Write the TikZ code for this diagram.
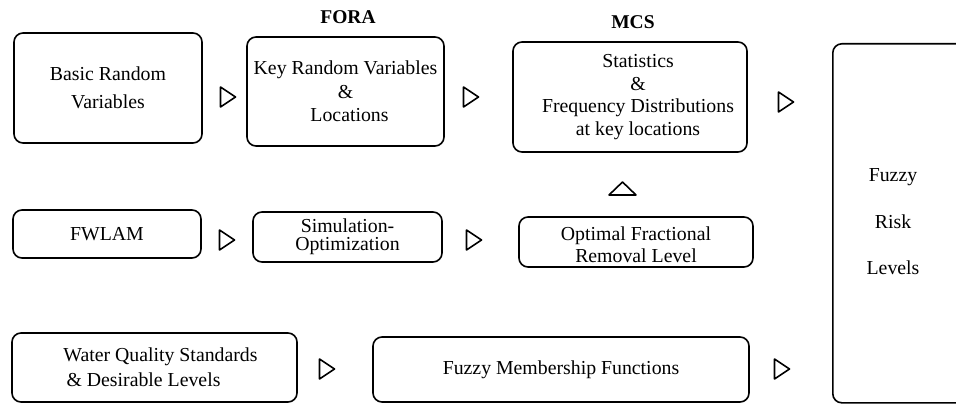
\documentclass[tikz,border=0pt]{standalone}
\usepackage{fontspec}
\setmainfont{Liberation Serif}
\begin{document}
\begin{tikzpicture}[x=1pt,y=-1pt,
  box/.style={draw, line width=1.6pt, rounded corners=9pt, align=center, inner sep=0pt,
              font=\fontsize{19.8}{22}\selectfont},
  hdr/.style={font=\bfseries\fontsize{19.5}{22}\selectfont},
  txt/.style={align=center, font=\fontsize{19.8}{22}\selectfont},
  tri/.style={draw, line width=1.6pt, line join=round},
  rtri/.pic={\draw[tri] (-7.5,-10) -- (7.5,0) -- (-7.5,10) -- cycle;},
  utri/.pic={\draw[tri] (-13.5,6.5) -- (0,-6.5) -- (13.5,6.5) -- cycle;}
]
\useasboundingbox (0,0) rectangle (956,404);
\clip (0,0) rectangle (956,404);

% headers
\node[hdr] (fora) at (348,17) {FORA};
\node[hdr] (mcs) at (633,22) {MCS};

% row 1
\node[box, minimum width=188pt, minimum height=110pt, font=\fontsize{19.8}{28}\selectfont] (basic) at (108,88) {Basic Random\\Variables};
\node[box, minimum width=197pt, minimum height=109pt, font=\fontsize{19.8}{23.5}\selectfont] (key) at (345.5,91.5) {Key Random Variables\\\&\\\hspace*{8pt}Locations};
\node[box, minimum width=234pt, minimum height=110pt] (stats) at (630,97) {};
\node[txt, font=\fontsize{19.8}{22.5}\selectfont] (statstext) at (638,97) {Statistics\\\&\\Frequency Distributions\\at key locations};

% fuzzy risk box (right edge outside picture)
\node[box, minimum width=160pt, minimum height=359pt, anchor=north west] (risk) at (832,43) {};
\node[txt, font=\fontsize{19.8}{46.5}\selectfont] (risktext) at (893,222) {Fuzzy\\Risk\\Levels};

% row 2
\node[box, minimum width=188pt, minimum height=48pt] (fwlam) at (107,234) {FWLAM};
\node[box, minimum width=189pt, minimum height=50pt, font=\fontsize{19.8}{18}\selectfont] (simopt) at (347.5,237) {Simulation-\\Optimization};
\node[box, minimum width=234pt, minimum height=50pt] (optimal) at (636,242) {};
\node[txt] (optimaltext) at (636,245) {Optimal Fractional\\Removal Level};

% row 3
\node[box, minimum width=285pt, minimum height=69pt, font=\fontsize{19.8}{25}\selectfont] (wq) at (154.5,367.5) {\hspace*{12pt}Water Quality Standards\\\& Desirable Levels\hspace*{22pt}};
\node[box, minimum width=376pt, minimum height=65pt] (fmf) at (561,369.5) {Fuzzy Membership Functions};

% triangle markers
\coordinate (t1) at (228,97);
\coordinate (t2) at (471,97);
\coordinate (t3) at (786,102);
\coordinate (t4) at (227,240);
\coordinate (t5) at (474,240);
\coordinate (t6) at (327,369);
\coordinate (t7) at (782,369);
\coordinate (tu) at (622.5,188.5);
\pic at (t1) {rtri};
\pic at (t2) {rtri};
\pic at (t3) {rtri};
\pic at (t4) {rtri};
\pic at (t5) {rtri};
\pic at (t6) {rtri};
\pic at (t7) {rtri};
\pic at (tu) {utri};
\end{tikzpicture}
\end{document}
